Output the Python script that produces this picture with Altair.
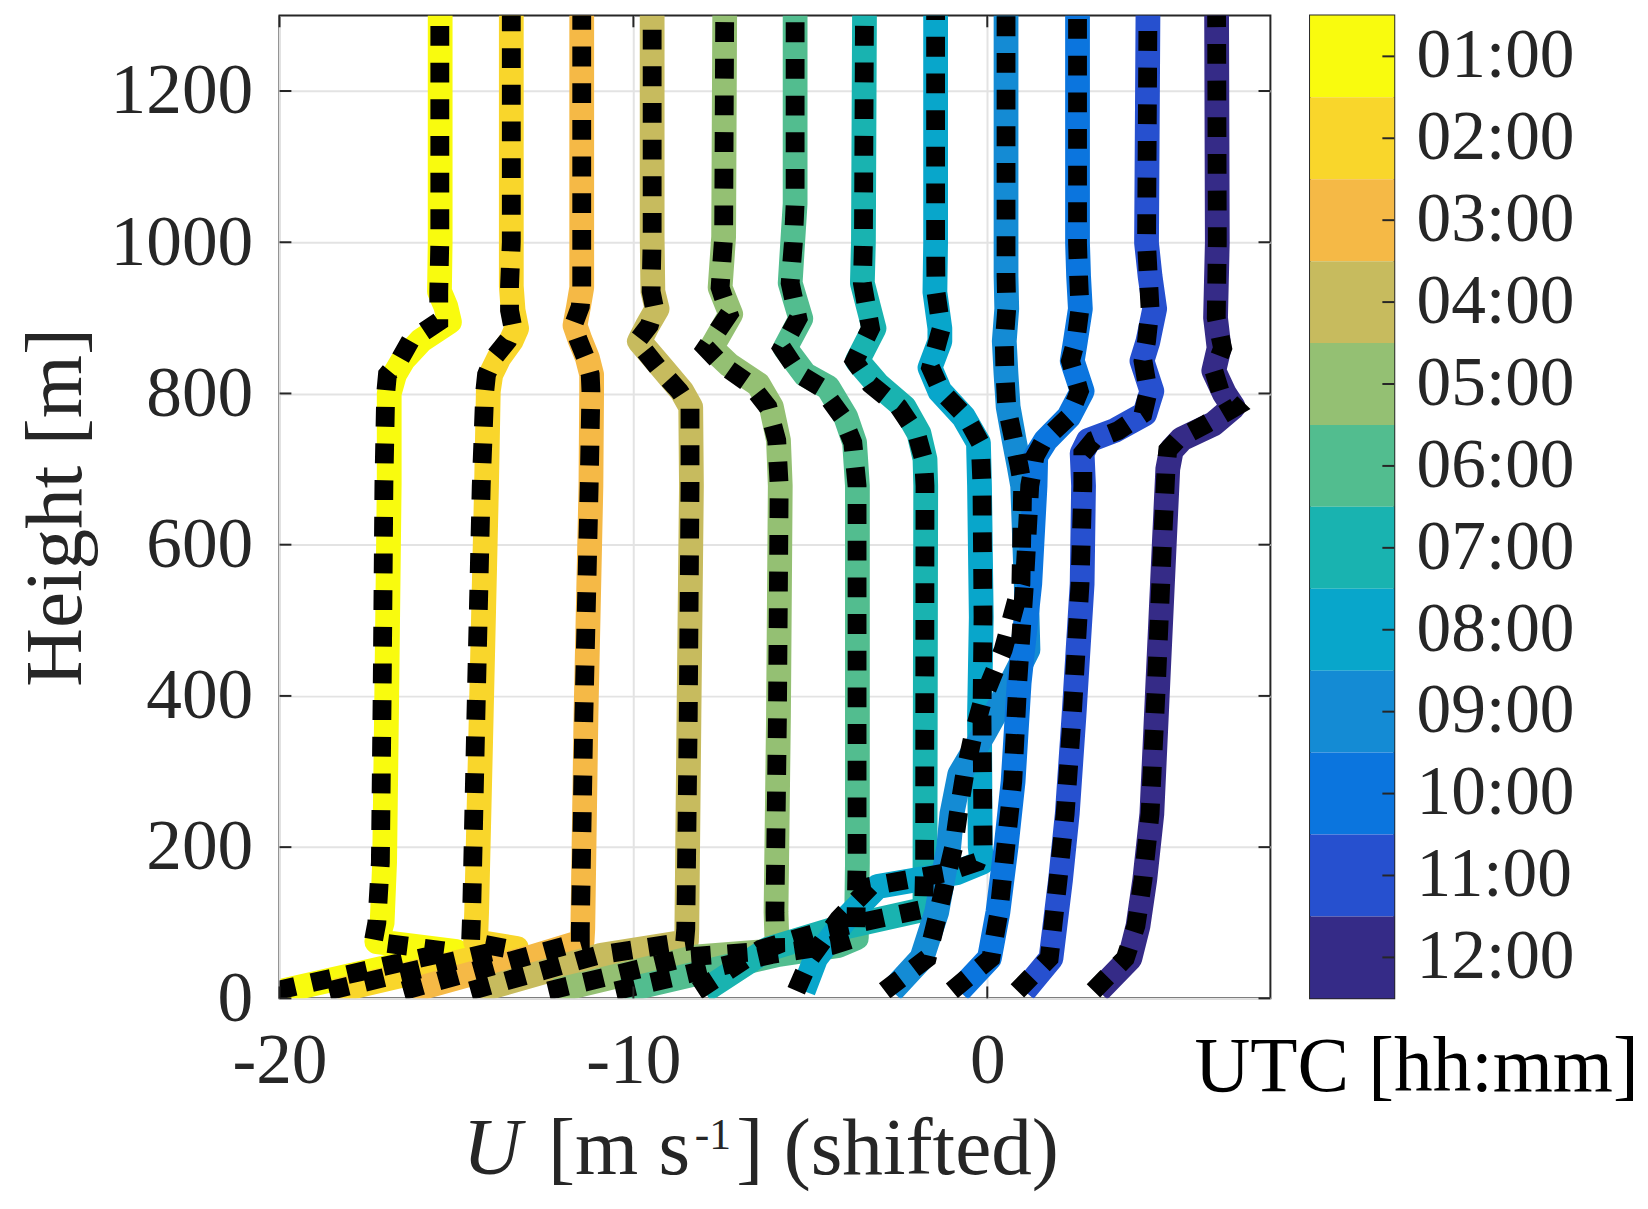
import pandas as pd
import altair as alt

# UTC hour of each profile and its colour
hours = ["01:00", "02:00", "03:00", "04:00", "05:00", "06:00",
         "07:00", "08:00", "09:00", "10:00", "11:00", "12:00"]
colors = ["#f9fb0e", "#f9d62b", "#f5b946", "#c7bb5e", "#94c073", "#52bd8f",
          "#19b3b0", "#08a6cb", "#148bd4", "#0b75de", "#2650cf", "#352b87"]

# height [m], shifted U of the coloured profile and of the black dotted one
z01 = [10, 62, 75, 100, 180, 400, 680, 800, 825, 845, 870, 895, 915, 935, 1000, 1300]
u01 = [-19.9, -15.0, -17.25, -17.1, -17.03, -16.97, -16.9, -16.9, -16.75, -16.5, -16.0, -15.2, -15.3, -15.48, -15.46, -15.46]
o01 = [-20.1, -15.2, -17.35, -17.25, -17.15, -17.1, -17.05, -17.0, -16.95, -16.6, -16.3, -15.5, -15.5, -15.5, -15.47, -15.47]

z02 = [10, 66, 75, 114, 374, 678, 803, 825, 847, 870, 886, 910, 942, 1000, 1300]
u02 = [-18.4, -13.3, -14.46, -14.43, -14.3, -14.15, -14.1, -14.03, -13.8, -13.45, -13.3, -13.4, -13.45, -13.45, -13.45]
o02 = [-18.6, -13.6, -14.6, -14.57, -14.45, -14.3, -14.2, -14.15, -13.95, -13.55, -13.4, -13.5, -13.5, -13.45, -13.45]

z03 = [10, 53, 75, 92, 374, 678, 803, 825, 847, 870, 890, 915, 940, 1000, 1300]
u03 = [-16.3, -13.0, -11.45, -11.43, -11.34, -11.2, -11.18, -11.18, -11.3, -11.5, -11.65, -11.55, -11.46, -11.46, -11.46]
o03 = [-16.5, -13.2, -11.5, -11.5, -11.4, -11.25, -11.2, -11.22, -11.35, -11.55, -11.7, -11.5, -11.46, -11.46, -11.46]

z04 = [10, 57, 75, 92, 374, 678, 782, 803, 834, 869, 890, 912, 935, 1007, 1300]
u04 = [-14.4, -10.9, -8.5, -8.49, -8.43, -8.36, -8.38, -8.63, -9.19, -9.83, -9.6, -9.33, -9.45, -9.47, -9.47]
o04 = [-14.6, -11.0, -8.55, -8.52, -8.45, -8.4, -8.4, -8.7, -9.3, -9.9, -9.55, -9.4, -9.5, -9.47, -9.47]

z05 = [10, 55, 62, 70, 114, 374, 678, 738, 782, 812, 838, 860, 905, 940, 1007, 1300]
u05 = [-12.2, -8.2, -6.3, -5.94, -5.97, -5.9, -5.85, -5.9, -6.1, -6.47, -7.3, -7.8, -7.25, -7.55, -7.45, -7.42]
o05 = [-12.4, -8.4, -6.4, -5.98, -6.0, -5.93, -5.88, -5.95, -6.2, -6.7, -7.5, -7.95, -7.3, -7.55, -7.45, -7.42]

z06 = [10, 58, 70, 80, 179, 374, 678, 735, 769, 808, 825, 860, 899, 946, 999, 1051, 1300]
u06 = [-10.3, -5.9, -4.2, -3.7, -3.67, -3.67, -3.67, -3.75, -4.0, -4.5, -5.15, -5.71, -5.27, -5.57, -5.5, -5.43, -5.43]
o06 = [-10.5, -6.1, -4.4, -3.72, -3.68, -3.68, -3.68, -3.8, -4.1, -4.7, -5.3, -5.8, -5.35, -5.57, -5.48, -5.43, -5.43]

z07 = [10, 65, 90, 118, 179, 678, 713, 747, 782, 812, 843, 886, 946, 1000, 1300]
u07 = [-8.0, -6.2, -4.45, -1.76, -1.76, -1.74, -1.76, -1.93, -2.35, -3.1, -3.67, -3.2, -3.53, -3.5, -3.47]
o07 = [-8.2, -6.4, -4.6, -1.8, -1.77, -1.76, -1.8, -2.0, -2.5, -3.3, -3.75, -3.3, -3.53, -3.5, -3.47]

z08 = [10, 53, 105, 148, 166, 180, 200, 374, 504, 678, 735, 769, 803, 834, 869, 886, 934, 1000, 1300]
u08 = [-5.2, -4.85, -4.0, -3.1, -0.87, -0.15, -0.2, -0.22, -0.17, -0.22, -0.25, -0.67, -1.34, -1.62, -1.34, -1.34, -1.48, -1.46, -1.46]
o08 = [-5.4, -5.0, -4.2, -3.3, -1.2, -0.3, -0.12, -0.15, -0.12, -0.15, -0.2, -0.6, -1.3, -1.6, -1.4, -1.3, -1.45, -1.46, -1.46]

z09 = [10, 53, 114, 200, 244, 296, 348, 396, 461, 548, 678, 704, 738, 782, 825, 869, 912, 955, 1300]
u09 = [-2.7, -1.85, -1.43, -1.09, -1.0, -0.78, -0.12, 0.45, 1.15, 1.1, 1.0, 0.9, 0.76, 0.59, 0.53, 0.48, 0.55, 0.53, 0.53]
o09 = [-2.9, -1.7, -1.38, -0.95, -0.82, -0.64, -0.4, -0.12, 0.45, 0.95, 1.0, 0.9, 0.75, 0.55, 0.5, 0.48, 0.55, 0.53, 0.53]

z10 = [10, 53, 114, 200, 287, 417, 548, 678, 717, 738, 769, 803, 843, 869, 912, 955, 999, 1300]
u10 = [-0.8, 0.06, 0.3, 0.53, 0.73, 0.9, 1.2, 1.35, 1.37, 1.65, 2.3, 2.68, 2.4, 2.49, 2.63, 2.58, 2.55, 2.55]
o10 = [-1.0, 0.1, 0.33, 0.52, 0.72, 0.86, 1.05, 1.2, 1.35, 1.6, 2.3, 2.6, 2.35, 2.5, 2.62, 2.58, 2.55, 2.55]

z11 = [10, 53, 157, 244, 374, 548, 678, 721, 738, 751, 773, 803, 843, 869, 912, 955, 999, 1300]
u11 = [1.04, 1.8, 2.07, 2.26, 2.45, 2.68, 2.72, 2.68, 2.86, 3.6, 4.45, 4.65, 4.37, 4.54, 4.73, 4.6, 4.5, 4.54]
o11 = [0.85, 1.75, 2.0, 2.2, 2.4, 2.62, 2.7, 2.7, 3.0, 3.7, 4.4, 4.55, 4.4, 4.5, 4.6, 4.55, 4.5, 4.54]

z12 = [10, 53, 96, 157, 244, 417, 600, 700, 725, 740, 760, 782, 800, 830, 860, 900, 1000, 1300]
u12 = [3.14, 4.03, 4.26, 4.45, 4.65, 4.82, 5.0, 5.1, 5.2, 5.5, 6.4, 6.95, 6.7, 6.4, 6.55, 6.45, 6.5, 6.48]
o12 = [3.0, 3.9, 4.2, 4.4, 4.6, 4.78, 4.95, 5.05, 5.1, 5.4, 6.2, 7.0, 6.6, 6.4, 6.65, 6.47, 6.5, 6.48]

x_ticks = [-20, -10, 0]
y_ticks = [0, 200, 400, 600, 800, 1000, 1200]

heights = [z01, z02, z03, z04, z05, z06, z07, z08, z09, z10, z11, z12]
model = [u01, u02, u03, u04, u05, u06, u07, u08, u09, u10, u11, u12]
observed = [o01, o02, o03, o04, o05, o06, o07, o08, o09, o10, o11, o12]

rows = []
for h, zs, us, os_ in zip(hours, heights, model, observed):
    for z, u, o in zip(zs, us, os_):
        rows.append({"utc": h, "z": z, "u": u, "obs": o})
df = pd.DataFrame(rows)

W, H = 1000, 992
AX = "#262626"
FONT = "Liberation Serif"

color_scale = alt.Scale(domain=hours, range=colors)
xscale = alt.Scale(domain=[-20, 8], nice=False, zero=False)
yscale = alt.Scale(domain=[0, 1300], nice=False, zero=False)

x_enc = alt.X("u:Q", scale=xscale, axis=alt.Axis(
    values=x_ticks, title=None, labelExpr="'' + datum.value", labelFlush=False,
    labelFontSize=72, labelPadding=28, ticks=False, domain=False,
    grid=True, gridColor="#e3e3e3", gridWidth=2))
y_enc = alt.Y("z:Q", scale=yscale, axis=alt.Axis(
    values=y_ticks, title="Height [m]", labelExpr="'' + datum.value",
    labelFontSize=72, labelPadding=27,
    ticks=False, domain=False, grid=True, gridColor="#e3e3e3", gridWidth=2,
    titleFontSize=82, titlePadding=13, titleColor=AX, titleFontWeight="normal"))

lines = alt.Chart(df).mark_line(
    strokeWidth=25, strokeCap="butt", strokeJoin="round", clip=True
).encode(
    x=x_enc, y=y_enc,
    color=alt.Color("utc:N", scale=color_scale, legend=None),
    order=alt.Order("z:Q"),
)

dots = alt.Chart(df).mark_line(
    color="black", strokeWidth=19, strokeDash=[20, 17], clip=True
).encode(
    x=alt.X("obs:Q", scale=xscale),
    y=alt.Y("z:Q", scale=yscale),
    detail="utc:N",
    order=alt.Order("z:Q"),
)

# inward ticks on all four sides of the box
yt = pd.DataFrame({"z": y_ticks})
xt = pd.DataFrame({"u": x_ticks})
tick_l = alt.Chart(yt).mark_rule(color=AX, strokeWidth=2).encode(
    y=alt.Y("z:Q", scale=yscale), x=alt.value(0), x2=alt.value(12))
tick_r = alt.Chart(yt).mark_rule(color=AX, strokeWidth=2).encode(
    y=alt.Y("z:Q", scale=yscale), x=alt.value(W - 12), x2=alt.value(W))
tick_b = alt.Chart(xt).mark_rule(color=AX, strokeWidth=2).encode(
    x=alt.X("u:Q", scale=xscale), y=alt.value(H - 12), y2=alt.value(H))
tick_t = alt.Chart(xt).mark_rule(color=AX, strokeWidth=2).encode(
    x=alt.X("u:Q", scale=xscale), y=alt.value(0), y2=alt.value(12))

# x-axis title, italic U and a raised -1
one = pd.DataFrame({"a": [0]})
t_u = alt.Chart(one).mark_text(fontSize=82, fontStyle="italic", align="left",
                               baseline="alphabetic", color=AX).encode(
    x=alt.value(185), y=alt.value(1169), text=alt.value("U"))
t_m = alt.Chart(one).mark_text(fontSize=82, align="left",
                               baseline="alphabetic", color=AX).encode(
    x=alt.value(271), y=alt.value(1169), text=alt.value("[m s"))
t_e = alt.Chart(one).mark_text(fontSize=44, align="left",
                               baseline="alphabetic", color=AX).encode(
    x=alt.value(419), y=alt.value(1144), text=alt.value("-1"))
t_s = alt.Chart(one).mark_text(fontSize=82, align="left",
                               baseline="alphabetic", color=AX).encode(
    x=alt.value(461), y=alt.value(1169), text=alt.value("] (shifted)"))

main = alt.layer(lines, dots, tick_l, tick_r, tick_b, tick_t,
                 t_u, t_m, t_e, t_s).properties(width=W, height=H)

# discrete colour bar
cb = pd.DataFrame({"utc": hours, "x0": [0] * 12, "x1": [1] * 12})
cb_y = alt.Y("utc:N", sort=hours,
             scale=alt.Scale(domain=hours, paddingInner=0, paddingOuter=0),
             axis=alt.Axis(orient="right", title=None, ticks=False, domain=False,
                           labelPadding=22, labelFontSize=70))
bar = alt.Chart(cb).mark_rect().encode(
    y=cb_y,
    x=alt.X("x0:Q", scale=alt.Scale(domain=[0, 1], nice=False),
            axis=alt.Axis(title="UTC [hh:mm]", labels=False, ticks=False,
                          domain=False, grid=False, titleX=107, titleY=93,
                          titleAlign="center", titleBaseline="alphabetic",
                          titleFontSize=78, titleColor="black",
                          titleFontWeight="normal")),
    x2="x1:Q",
    color=alt.Color("utc:N", scale=color_scale, legend=None),
)
bar_ticks = alt.Chart(cb).mark_rule(color=AX, strokeWidth=2).encode(
    y=alt.Y("utc:N", sort=hours), x=alt.value(73), x2=alt.value(85))
cbar = alt.layer(bar, bar_ticks).properties(width=85, height=H)

chart = alt.hconcat(main, cbar, spacing=40, bounds="flush",
                    padding={"left": 6, "top": 0, "right": 0, "bottom": 0}
).configure(font=FONT).configure_axis(
    labelColor=AX, labelFont=FONT, titleFont=FONT
).configure_view(stroke=AX, strokeWidth=2)

chart.save("out.html", embed_options={"renderer": "svg", "actions": False})
